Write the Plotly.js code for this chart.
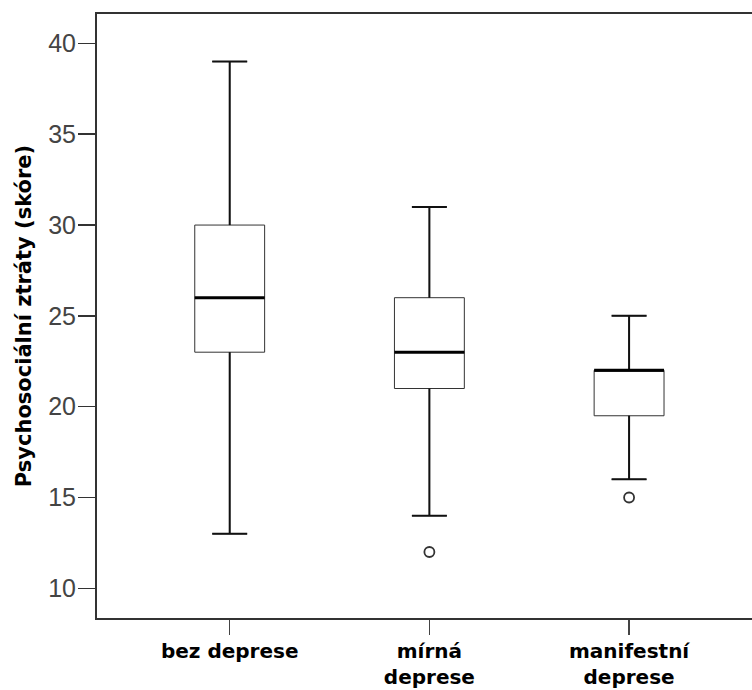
<!DOCTYPE html>
<html>
<head>
<meta charset="utf-8">
<script src="https://cdn.plot.ly/plotly-3.0.1.min.js"></script>
<style>html,body{margin:0;padding:0;background:#fff;overflow:hidden}#chart{width:752px;height:690px}</style>
</head>
<body>
<div id="chart"></div>
<script>
// Data
var categories = ["bez deprese", "mírná<br>deprese", "manifestní<br>deprese"];
var lowerWhisker = [13, 14, 16];
var q1Values = [23, 21, 19.5];
var medianValues = [26, 23, 22];
var q3Values = [30, 26, 22];
var upperWhisker = [39, 31, 25];
var outlierGroup = [1, 2];
var outlierValues = [12, 15];
var yTickVals = [10, 15, 20, 25, 30, 35, 40];

var pos = categories.map(function(_, i){ return i; });
var boxW = 0.35, capHalf = 0.0875, medHalf = 0.175;

var traces = [];
traces.push({
  type: 'box', x: pos, q1: q1Values, median: medianValues, q3: q3Values,
  lowerfence: lowerWhisker, upperfence: upperWhisker,
  width: boxW, whiskerwidth: 0.5, boxpoints: false,
  fillcolor: '#ffffff', line: {color: '#333333', width: 1},
  hoverinfo: 'skip', showlegend: false
});

// whiskers and caps (thicker)
var wx = [], wy = [];
pos.forEach(function(p, i){
  wx.push(p, p, null, p, p, null, p - capHalf, p + capHalf, null, p - capHalf, p + capHalf, null);
  wy.push(q3Values[i], upperWhisker[i], null, q1Values[i], lowerWhisker[i], null,
          upperWhisker[i], upperWhisker[i], null, lowerWhisker[i], lowerWhisker[i], null);
});
traces.push({type: 'scatter', mode: 'lines', x: wx, y: wy,
  line: {color: '#111111', width: 2}, hoverinfo: 'skip', showlegend: false});

// medians (thick)
var mx = [], my = [];
pos.forEach(function(p, i){
  mx.push(p - medHalf, p + medHalf, null);
  my.push(medianValues[i], medianValues[i], null);
});
traces.push({type: 'scatter', mode: 'lines', x: mx, y: my,
  line: {color: '#000000', width: 3}, hoverinfo: 'skip', showlegend: false});

// outliers
traces.push({type: 'scatter', mode: 'markers', x: outlierGroup, y: outlierValues,
  marker: {symbol: 'circle-open', size: 10, color: '#333333', line: {width: 1.8, color: '#333333'}},
  hoverinfo: 'skip', showlegend: false});

var layout = {
  width: 752, height: 690,
  margin: {l: 97, r: 0, t: 14, b: 72},
  paper_bgcolor: '#ffffff', plot_bgcolor: '#ffffff',
  showlegend: false,
  xaxis: {
    range: [-0.6645, 2.6155], tickmode: 'array', tickvals: pos, ticktext: categories,
    showline: true, linecolor: '#333333', linewidth: 2, mirror: true,
    ticks: 'outside', ticklen: 15, tickwidth: 1.5, tickcolor: '#444444',
    ticklabelstandoff: -1,
    showgrid: false, zeroline: false,
    tickfont: {family: 'DejaVu Sans', size: 20, color: '#000000', weight: 'bold'}
  },
  yaxis: {
    range: [8.365, 41.62], tickmode: 'array', tickvals: yTickVals,
    showline: true, linecolor: '#333333', linewidth: 2,
    ticks: 'outside', ticklen: 17, tickwidth: 1.5, tickcolor: '#333333',
    ticklabelstandoff: -3,
    showgrid: false, zeroline: false,
    tickfont: {family: 'Liberation Sans', size: 25, color: '#444444'},
    title: {text: 'Psychosociální ztráty (skóre)', standoff: 11,
      font: {family: 'DejaVu Sans', size: 21, color: '#000000', weight: 'bold'}}
  }
};

Plotly.newPlot('chart', traces, layout, {displayModeBar: false, staticPlot: true});
</script>
</body>
</html>
